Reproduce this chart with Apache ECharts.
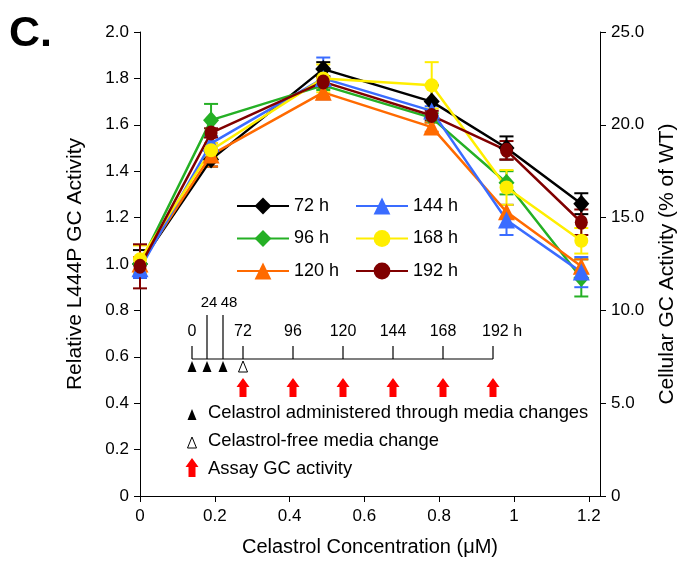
<!DOCTYPE html>
<html><head><meta charset="utf-8">
<script src="https://cdn.jsdelivr.net/npm/echarts@6/dist/echarts.min.js"></script>
<style>html,body{margin:0;padding:0;background:#fff}#c{width:691px;height:573px}</style>
</head><body><div id="c"></div>
<script>
// ---- data ----
const concentrations = [0, 0.19, 0.49, 0.78, 0.98, 1.18];
const xTickValues = [0, 0.2, 0.4, 0.6, 0.8, 1, 1.2];
const seriesNames = ['72 h', '96 h', '120 h', '144 h', '168 h', '192 h'];
const gc72  = [1.00, 1.45, 1.84, 1.70, 1.50, 1.26];
const gc96  = [1.00, 1.62, 1.77, 1.63, 1.35, 0.94];
const gc120 = [1.00, 1.47, 1.74, 1.59, 1.225, 0.99];
const gc144 = [0.98, 1.52, 1.80, 1.66, 1.19, 0.965];
const gc168 = [1.02, 1.49, 1.80, 1.77, 1.33, 1.10];
const gc192 = [0.99, 1.565, 1.785, 1.64, 1.49, 1.18];
const err72  = [0.06, 0.03, 0.03, 0.07, 0.05, 0.045];
const err96  = [0.03, 0.07, 0.02, 0.02, 0.05, 0.08];
const err120 = [0.03, 0.05, 0.02, 0.02, 0.03, 0.03];
const err144 = [0.04, 0.03, 0.09, 0.02, 0.065, 0.065];
const err168 = [0.06, 0.03, 0.06, 0.10, 0.075, 0.055];
const err192 = [0.095, 0.02, 0.02, 0.02, 0.04, 0.055];
const scheduleLabels = ['0', '72', '96', '120', '144', '168', '192 h'];
const doseLabels = ['24', '48'];
const noteTexts = ['Celastrol administered through media changes', 'Celastrol-free media change', 'Assay GC activity'];

// ---- styles ----
const FONT = '"Liberation Sans", Arial, sans-serif';
const colors = ['#000000', '#25b025', '#ff6a00', '#3a6cff', '#ffee00', '#800000'];
const symbols = ['diamond', 'diamond', 'triangle', 'triangle', 'circle', 'circle'];
const sizes = [[16, 18], [16, 18], 17, 17, 14, [13, 15]];
const values = [gc72, gc96, gc120, gc144, gc168, gc192];
const errors = [err72, err96, err120, err144, err168, err192];

function errRender(color) {
  return function (params, api) {
    const x = api.value(0), lo = api.value(1), hi = api.value(2);
    const p1 = api.coord([x, lo]), p2 = api.coord([x, hi]);
    const w = 7, st = { stroke: color, lineWidth: 2 };
    return { type: 'group', children: [
      { type: 'line', shape: { x1: p1[0], y1: p1[1], x2: p2[0], y2: p2[1] }, style: st },
      { type: 'line', shape: { x1: p1[0] - w, y1: p1[1], x2: p1[0] + w, y2: p1[1] }, style: st },
      { type: 'line', shape: { x1: p2[0] - w, y1: p2[1], x2: p2[0] + w, y2: p2[1] }, style: st }
    ]};
  };
}

const series = [];
seriesNames.forEach((name, k) => {
  series.push({
    type: 'custom', name: name + ' err', coordinateSystem: 'cartesian2d', silent: true, z: 1,
    renderItem: errRender(colors[k]), encode: { x: 0, y: [1, 2] },
    data: concentrations.map((x, i) => [x, values[k][i] - errors[k][i], values[k][i] + errors[k][i]])
  });
});
seriesNames.forEach((name, k) => {
  series.push({
    type: 'line', name: name, z: 2,
    data: concentrations.map((x, i) => [x, values[k][i]]),
    symbol: symbols[k], symbolSize: sizes[k], showAllSymbol: true,
    lineStyle: { color: colors[k], width: 2.5 },
    itemStyle: { color: colors[k], opacity: 1 }
  });
});

// ---- inset schematic (annotation) ----
const scheduleX = [192, 243, 293, 343, 393, 443, 493];
const doseX = [207, 223];
const g = [];
const blk = { stroke: '#000', lineWidth: 1.2 };
g.push({ type: 'line', shape: { x1: scheduleX[0], y1: 359, x2: scheduleX[6], y2: 359 }, style: blk });
scheduleX.forEach((x, i) => {
  g.push({ type: 'line', shape: { x1: x, y1: 346, x2: x, y2: 359 }, style: blk });
  const last = i === scheduleX.length - 1;
  g.push({ type: 'text', x: last ? x - 11 : x, y: 332, style: { text: scheduleLabels[i], font: '16px ' + FONT, fill: '#000', align: last ? 'left' : 'center', verticalAlign: 'middle' } });
});
const doseLabelX = [209, 229];
doseX.forEach((x, i) => {
  g.push({ type: 'line', shape: { x1: x, y1: 315, x2: x, y2: 359 }, style: blk });
  g.push({ type: 'text', x: doseLabelX[i], y: 303, style: { text: doseLabels[i], font: '15px ' + FONT, fill: '#000', align: 'center', verticalAlign: 'middle' } });
});
function tri(x, yTop, filled) {
  return { type: 'polygon', shape: { points: [[x - 4.5, yTop + 11], [x, yTop], [x + 4.5, yTop + 11]] },
    style: filled ? { fill: '#000' } : { fill: '#fff', stroke: '#000', lineWidth: 1 } };
}
function arrow(x, yTop) {
  return { type: 'polygon', shape: { points: [[x, yTop], [x + 6.5, yTop + 9], [x + 3.5, yTop + 9], [x + 3.5, yTop + 19], [x - 3.5, yTop + 19], [x - 3.5, yTop + 9], [x - 6.5, yTop + 9]] },
    style: { fill: '#ff0000' } };
}
[scheduleX[0]].concat(doseX).forEach(x => g.push(tri(x, 361, true)));
g.push(tri(scheduleX[1], 361, false));
scheduleX.slice(1).forEach(x => g.push(arrow(x, 378)));
g.push(tri(192, 409, true));
g.push(tri(192, 437, false));
g.push(arrow(192, 458));
[413, 441, 469].forEach((y, i) => {
  g.push({ type: 'text', x: 208, y: y, style: { text: noteTexts[i], font: '18.4px ' + FONT, fill: '#000', align: 'left', verticalAlign: 'middle' } });
});

const axisLine = { show: true, lineStyle: { color: '#000', width: 1 } };
const axisTick = { show: true, length: 6, lineStyle: { color: '#000', width: 1 } };
const fmt1 = v => (v === 0 ? '0' : v.toFixed(1));
const legendCommon = { orient: 'vertical', top: 192, itemWidth: 52, itemHeight: 21, itemGap: 14.5, textStyle: { fontSize: 18, fontFamily: FONT, color: '#000' }, selectedMode: false };

const chart = echarts.init(document.getElementById('c'), null, { renderer: 'canvas' });
chart.setOption({
  animation: false,
  backgroundColor: '#fff',
  title: { text: 'C.', left: 9, top: 13, padding: 0, textStyle: { fontSize: 43, fontWeight: 'bold', fontFamily: FONT, color: '#000' } },
  grid: { left: 140, right: 91, top: 32, bottom: 77 },
  legend: [
    Object.assign({ data: seriesNames.slice(0, 3), left: 231 }, legendCommon),
    Object.assign({ data: seriesNames.slice(3), left: 350 }, legendCommon)
  ],
  xAxis: {
    type: 'value', min: 0, max: 1.23,
    name: 'Celastrol Concentration (\u03bcM)', nameLocation: 'middle', nameGap: 41,
    nameTextStyle: { fontSize: 20, fontFamily: FONT, color: '#000' },
    axisLine: axisLine, splitLine: { show: false },
    axisTick: Object.assign({ customValues: xTickValues }, axisTick),
    axisLabel: { customValues: xTickValues, formatter: v => String(Math.round(v * 10) / 10), fontSize: 17, fontFamily: FONT, color: '#000', margin: 12 }
  },
  yAxis: [
    { type: 'value', min: 0, max: 2, interval: 0.2, position: 'left',
      name: 'Relative L444P GC Activity', nameLocation: 'middle', nameGap: 54, nameRotate: 90,
      nameTextStyle: { fontSize: 21, fontFamily: FONT, color: '#000' },
      axisLine: axisLine, axisTick: axisTick, splitLine: { show: false },
      axisLabel: { formatter: fmt1, fontSize: 17, fontFamily: FONT, color: '#000', margin: 11 } },
    { type: 'value', min: 0, max: 25, interval: 5, position: 'right',
      name: 'Cellular GC Activity (% of WT)', nameLocation: 'middle', nameGap: 57, nameRotate: 90,
      nameTextStyle: { fontSize: 21, fontFamily: FONT, color: '#000' },
      axisLine: axisLine, axisTick: axisTick, splitLine: { show: false },
      axisLabel: { formatter: fmt1, fontSize: 17, fontFamily: FONT, color: '#000', margin: 11 } }
  ],
  series: series,
  graphic: g
});
</script></body></html>
